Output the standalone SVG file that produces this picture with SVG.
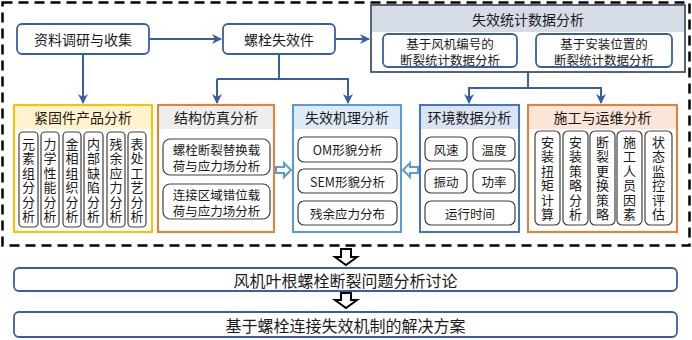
<svg xmlns="http://www.w3.org/2000/svg" width="692" height="340" viewBox="0 0 692 340">
<defs>
<style>
text{font-family:"Noto Sans CJK SC","Noto Sans",sans-serif;fill:#1a1a1a;text-anchor:middle;dominant-baseline:central}
.top{fill:#fff;stroke:#3a5ea4;stroke-width:1.8}
.sub{fill:#fff;stroke:#404040;stroke-width:1.2}
.t14{font-size:14px}
.t12{font-size:12.5px}
.t13{font-size:13px}
.t16{font-size:16px}
.conn{fill:none;stroke:#3a5ea4;stroke-width:2}
.hb{fill:#fff;stroke:#5b9bd5;stroke-width:2}
.hk{fill:#fff;stroke:#000;stroke-width:2}
</style>
<marker id="ah" viewBox="0 0 10 10" refX="9" refY="5" markerWidth="5" markerHeight="5" orient="auto" markerUnits="strokeWidth">
<path d="M0,0 L10,5 L0,10 L3,5 Z" fill="#3a5ea4"/>
</marker>
</defs>
<rect x="0" y="0" width="692" height="340" fill="#fff"/>
<rect id="frame" x="2.5" y="2.5" width="687" height="243" fill="none" stroke="#000" stroke-width="2.5" stroke-dasharray="10 6"/>

<g id="connectors">
<path class="conn" d="M149,39 H221" marker-end="url(#ah)"/>
<path class="conn" d="M335,39 H369" marker-end="url(#ah)"/>
<path class="conn" d="M83,54 V103" marker-end="url(#ah)"/>
<path class="conn" d="M279,54 V79 M217,79 H348 M348,78 V103" marker-end="url(#ah)"/>
<path class="conn" d="M217,79 V103" marker-end="url(#ah)"/>
<path class="conn" d="M528,72 V88 M468,88 H601 M601,87 V103" marker-end="url(#ah)"/>
<path class="conn" d="M469,88 V103" marker-end="url(#ah)"/>
<path class="hb" d="M276,167 H284 V163 L291,170 L284,177 V173 H276 Z"/>
<path class="hb" d="M418,167 H410 V163 L403,170 L410,177 V173 H418 Z"/>
<path class="hk" d="M341,249 H351 V257 H357 L346,265 L335,257 H341 Z"/>
<path class="hk" d="M341,293 H351 V300 H357 L346,308 L335,300 H341 Z"/>
</g>

<g id="n-ziliao">
<rect class="top" x="17" y="24" width="132" height="30" rx="5"/>
<text class="t14" x="83" y="39">资料调研与收集</text>
</g>
<g id="n-luoshuan">
<rect class="top" x="223" y="24" width="112" height="30" rx="5"/>
<text class="t14" x="279" y="39">螺栓失效件</text>
</g>

<g id="n-tongji">
<rect x="371" y="5" width="314" height="67" fill="#fff" stroke="#44546a" stroke-width="1.8"/>
<rect x="372" y="6" width="312" height="26" fill="#d6dce5"/>
<text class="t14" x="528" y="19">失效统计数据分析</text>
<rect class="top" x="383" y="34" width="134" height="33" rx="5"/>
<text class="t12" x="450" y="43">基于风机编号的</text>
<text class="t12" x="450" y="59">断裂统计数据分析</text>
<rect class="top" x="536" y="34" width="136" height="33" rx="5"/>
<text class="t12" x="604" y="43">基于安装位置的</text>
<text class="t12" x="604" y="59">断裂统计数据分析</text>
</g>

<g id="n-jingujian">
<rect x="14" y="105" width="138" height="127" fill="#fff" stroke="#ffc000" stroke-width="2"/>
<rect x="15" y="106" width="136" height="23" fill="#fff2cc"/>
<text class="t14" x="83" y="117">紧固件产品分析</text>
<g class="t13">
<rect class="sub" x="19" y="132" width="19" height="95" rx="4"/>
<text x="28.5" y="143">元</text><text x="28.5" y="157.5">素</text><text x="28.5" y="172">组</text><text x="28.5" y="186.5">分</text><text x="28.5" y="201">分</text><text x="28.5" y="215.5">析</text>
<rect class="sub" x="41" y="132" width="18" height="95" rx="4"/>
<text x="50" y="143">力</text><text x="50" y="157.5">学</text><text x="50" y="172">性</text><text x="50" y="186.5">能</text><text x="50" y="201">分</text><text x="50" y="215.5">析</text>
<rect class="sub" x="63" y="132" width="18" height="95" rx="4"/>
<text x="72" y="143">金</text><text x="72" y="157.5">相</text><text x="72" y="172">组</text><text x="72" y="186.5">织</text><text x="72" y="201">分</text><text x="72" y="215.5">析</text>
<rect class="sub" x="84" y="132" width="19" height="95" rx="4"/>
<text x="93.5" y="143">内</text><text x="93.5" y="157.5">部</text><text x="93.5" y="172">缺</text><text x="93.5" y="186.5">陷</text><text x="93.5" y="201">分</text><text x="93.5" y="215.5">析</text>
<rect class="sub" x="107" y="132" width="18" height="95" rx="4"/>
<text x="116" y="143">残</text><text x="116" y="157.5">余</text><text x="116" y="172">应</text><text x="116" y="186.5">力</text><text x="116" y="201">分</text><text x="116" y="215.5">析</text>
<rect class="sub" x="128" y="132" width="18" height="95" rx="4"/>
<text x="137" y="143">表</text><text x="137" y="157.5">处</text><text x="137" y="172">工</text><text x="137" y="186.5">艺</text><text x="137" y="201">分</text><text x="137" y="215.5">析</text>
</g>
</g>

<g id="n-jiegou">
<rect x="158" y="105" width="116" height="127" fill="#fff" stroke="#ed7d31" stroke-width="2"/>
<rect x="159" y="106" width="114" height="23" fill="#ededed"/>
<text class="t14" x="216" y="117">结构仿真分析</text>
<rect class="sub" x="163" y="139" width="107" height="36" rx="7"/>
<text class="t12" x="216.5" y="149">螺栓断裂替换载</text>
<text class="t12" x="216.5" y="165">荷与应力场分析</text>
<rect class="sub" x="163" y="184" width="107" height="35" rx="7"/>
<text class="t12" x="216.5" y="194">连接区域错位载</text>
<text class="t12" x="216.5" y="210">荷与应力场分析</text>
</g>

<g id="n-jili">
<rect x="293" y="105" width="108" height="127" fill="#fff" stroke="#5b9bd5" stroke-width="2"/>
<rect x="294" y="106" width="106" height="23" fill="#deebf7"/>
<text class="t14" x="347" y="117">失效机理分析</text>
<rect class="sub" x="298" y="137" width="99" height="25" rx="6"/>
<text class="t12" x="347.5" y="149.5">OM形貌分析</text>
<rect class="sub" x="298" y="169" width="99" height="24" rx="6"/>
<text class="t12" x="347.5" y="181">SEM形貌分析</text>
<rect class="sub" x="298" y="201" width="99" height="24" rx="6"/>
<text class="t12" x="347.5" y="213">残余应力分布</text>
</g>

<g id="n-huanjing">
<rect x="420" y="105" width="99" height="127" fill="#fff" stroke="#4472c4" stroke-width="2"/>
<rect x="421" y="106" width="97" height="23" fill="#dae3f3"/>
<text class="t14" x="469.5" y="117">环境数据分析</text>
<rect class="sub" x="425" y="137" width="42" height="24" rx="6"/>
<text class="t12" x="446" y="149">风速</text>
<rect class="sub" x="473" y="137" width="42" height="24" rx="6"/>
<text class="t12" x="494" y="149">温度</text>
<rect class="sub" x="425" y="169" width="42" height="24" rx="6"/>
<text class="t12" x="446" y="181">振动</text>
<rect class="sub" x="473" y="169" width="42" height="24" rx="6"/>
<text class="t12" x="494" y="181">功率</text>
<rect class="sub" x="425" y="201" width="90" height="24" rx="6"/>
<text class="t12" x="470" y="213">运行时间</text>
</g>

<g id="n-shigong">
<rect x="528" y="105" width="149" height="127" fill="#fff" stroke="#ed7d31" stroke-width="2"/>
<rect x="529" y="106" width="147" height="23" fill="#fbe5d6"/>
<text class="t14" x="602.5" y="117">施工与运维分析</text>
<g class="t13">
<rect class="sub" x="535" y="131" width="25" height="94" rx="5"/>
<text x="547.5" y="141">安</text><text x="547.5" y="155.5">装</text><text x="547.5" y="170">扭</text><text x="547.5" y="184.5">矩</text><text x="547.5" y="199">计</text><text x="547.5" y="213.5">算</text>
<rect class="sub" x="563" y="131" width="25" height="94" rx="5"/>
<text x="575.5" y="141">安</text><text x="575.5" y="155.5">装</text><text x="575.5" y="170">策</text><text x="575.5" y="184.5">略</text><text x="575.5" y="199">分</text><text x="575.5" y="213.5">析</text>
<rect class="sub" x="590" y="131" width="25" height="94" rx="5"/>
<text x="602.5" y="141">断</text><text x="602.5" y="155.5">裂</text><text x="602.5" y="170">更</text><text x="602.5" y="184.5">换</text><text x="602.5" y="199">策</text><text x="602.5" y="213.5">略</text>
<rect class="sub" x="617" y="131" width="25" height="94" rx="5"/>
<text x="629.5" y="141">施</text><text x="629.5" y="155.5">工</text><text x="629.5" y="170">人</text><text x="629.5" y="184.5">员</text><text x="629.5" y="199">因</text><text x="629.5" y="213.5">素</text>
<rect class="sub" x="645" y="131" width="27" height="94" rx="5"/>
<text x="658.5" y="141">状</text><text x="658.5" y="155.5">态</text><text x="658.5" y="170">监</text><text x="658.5" y="184.5">控</text><text x="658.5" y="199">评</text><text x="658.5" y="213.5">估</text>
</g>
</g>

<g id="n-taolun">
<rect class="top" x="14" y="268" width="663" height="23" rx="5"/>
<text class="t16" x="345.5" y="279.5">风机叶根螺栓断裂问题分析讨论</text>
</g>
<g id="n-fangan">
<rect class="top" x="14" y="312" width="663" height="25" rx="5"/>
<text class="t16" x="345.5" y="324.5">基于螺栓连接失效机制的解决方案</text>
</g>
</svg>
